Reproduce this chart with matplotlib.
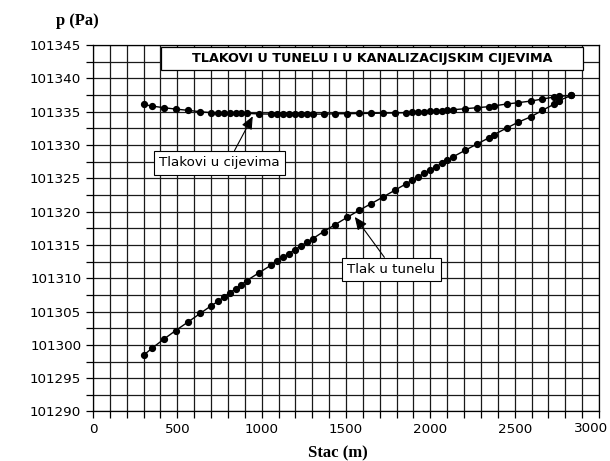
import matplotlib
matplotlib.use('Agg')
import matplotlib.pyplot as plt
from matplotlib.patches import Rectangle
from matplotlib.ticker import MultipleLocator, FuncFormatter

# stacionaze (m), zajednicke za obje linije
stac = [300, 350, 420, 490, 565, 635, 700, 740, 775, 810, 845, 880, 910, 985,
        1055, 1090, 1125, 1161, 1196, 1232, 1268, 1303, 1367, 1436, 1507, 1578,
        1647, 1717, 1789, 1857, 1891, 1926, 1964, 1998, 2032, 2067, 2101, 2136,
        2208, 2275, 2346, 2376, 2452, 2522, 2597, 2664, 2735, 2764, 2836]

# tlak u tunelu (Pa)
p_tunel = [101298.45, 101299.50, 101300.86, 101302.15, 101303.46, 101304.71,
           101305.86, 101306.51, 101307.17, 101307.82, 101308.38, 101309.02,
           101309.62, 101310.83, 101311.95, 101312.56, 101313.13, 101313.70,
           101314.27, 101314.84, 101315.40, 101315.94, 101317.00, 101318.05,
           101319.14, 101320.20, 101321.16, 101322.15, 101323.20, 101324.18,
           101324.69, 101325.22, 101325.74, 101326.24, 101326.74, 101327.22,
           101327.73, 101328.24, 101329.22, 101330.12, 101331.05, 101331.53,
           101332.53, 101333.43, 101334.24, 101335.19, 101336.14, 101336.66,
           101337.45]

# tlakovi u kanalizacijskim cijevima (Pa)
p_cijevi = [101336.09, 101335.83, 101335.59, 101335.38, 101335.19, 101334.99,
            101334.84, 101334.78, 101334.74, 101334.74, 101334.74, 101334.74,
            101334.74, 101334.66, 101334.63, 101334.63, 101334.63, 101334.63,
            101334.63, 101334.63, 101334.63, 101334.63, 101334.63, 101334.68,
            101334.69, 101334.72, 101334.74, 101334.77, 101334.80, 101334.84,
            101334.89, 101334.93, 101334.99, 101335.04, 101335.08, 101335.14,
            101335.19, 101335.29, 101335.44, 101335.59, 101335.74, 101335.86,
            101336.14, 101336.35, 101336.59, 101336.89, 101337.19, 101337.29,
            101337.45]

naslov = 'TLAKOVI U TUNELU I U KANALIZACIJSKIM CIJEVIMA'
x_max = 3000

fig = plt.figure(figsize=(6.1, 4.61), dpi=100)
ax = fig.add_axes([0.1525, 0.1074, 0.8295, 0.795])

ax.set_xlim(0, x_max)
ax.set_ylim(101290, 101345)
ax.xaxis.set_major_locator(MultipleLocator(500))
ax.xaxis.set_minor_locator(MultipleLocator(100))
ax.yaxis.set_major_locator(MultipleLocator(5))
ax.yaxis.set_minor_locator(MultipleLocator(2.5))
# zadnju oznaku (3000) crtamo posebno, malo ulijevo, da stane u sliku
ax.xaxis.set_major_formatter(FuncFormatter(lambda v, p: '' if v >= x_max else f'{v:.0f}'))
ax.yaxis.set_major_formatter(FuncFormatter(lambda v, p: f'{v:.0f}'))
ax.annotate(f'{x_max}', xy=(x_max, 0), xycoords=('data', 'axes fraction'),
            xytext=(-6, -7.3), textcoords='offset points', ha='center', va='top',
            fontsize=9.7)
ax.grid(True, which='both', color='#1a1a1a', linewidth=0.9)
ax.set_axisbelow(True)
ax.tick_params(which='both', direction='out', length=5, width=0.9,
               labelsize=9.7, color='black')
for s in ax.spines.values():
    s.set_linewidth(0.9)

ax.plot(stac, p_tunel, '-o', color='black', lw=1, ms=4.2)
ax.plot(stac, p_cijevi, '-o', color='black', lw=1, ms=4.2)

# naslov u okviru
ax.add_patch(Rectangle((0.134, 0.932), 0.834, 0.063, transform=ax.transAxes,
                       facecolor='white', edgecolor='black', lw=0.9, zorder=5))
ax.text(0.551, 0.9635, naslov, transform=ax.transAxes, ha='center', va='center',
        fontsize=9.2, fontweight='bold', zorder=6)

arrow = dict(arrowstyle='-|>,head_length=0.8,head_width=0.35', color='black',
             lw=0.8, shrinkA=0, shrinkB=0)
box = dict(boxstyle='square,pad=0.4', facecolor='white', edgecolor='black', lw=0.8)

ax.annotate('Tlakovi u cijevima', xy=(947, 101334.3), xytext=(749, 101327.3),
            ha='center', va='center', fontsize=9.6, bbox=box,
            arrowprops=dict(arrow, relpos=(0.6, 1.0)), zorder=6)
ax.annotate('Tlak u tunelu', xy=(1552, 101319.2), xytext=(1768, 101311.3),
            ha='center', va='center', fontsize=9.6, bbox=box,
            arrowprops=dict(arrow, relpos=(0.47, 1.0)), zorder=6)

fig.text(77 / 610, 1 - 21 / 461, 'p (Pa)', ha='center', va='center',
         family='Liberation Serif', fontweight='bold', fontsize=12)
fig.text(338 / 610, 1 - 453 / 461, 'Stac (m)', ha='center', va='center',
         family='Liberation Serif', fontweight='bold', fontsize=12)

fig.savefig('out.png', dpi=100)
plt.close(fig)
